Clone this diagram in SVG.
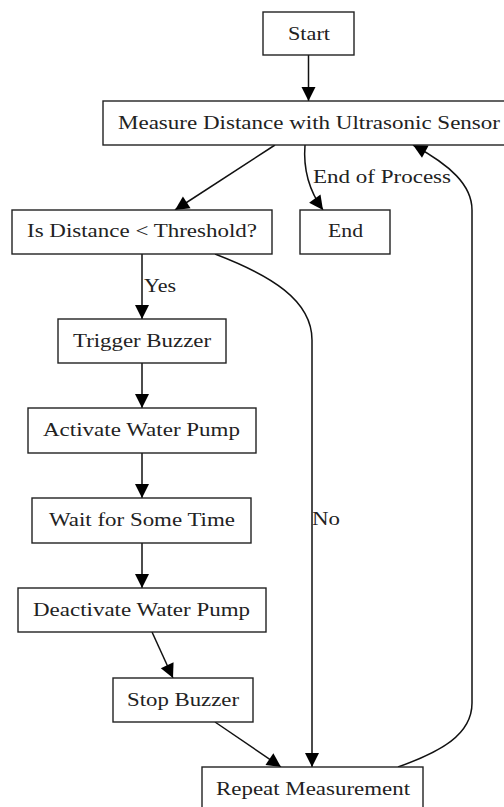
<svg xmlns="http://www.w3.org/2000/svg" width="504" height="807" viewBox="0 0 504 807">
<style>
.box{fill:#fff;stroke:#222;stroke-width:1.4}
text{font-family:'Liberation Serif','Times New Roman',serif;font-size:18px;fill:#222}
.e{fill:none;stroke:#111;stroke-width:1.5}
</style>
<defs>
<marker id="ah" markerUnits="userSpaceOnUse" markerWidth="15" markerHeight="14" refX="14" refY="7" orient="auto" overflow="visible">
<path d="M0,0 L14,7 L0,14 z" fill="#000"/>
</marker>
</defs>
<rect width="504" height="807" fill="#fff"/>
<g id="connectors">
<path class="e" marker-end="url(#ah)" d="M308.5,55 L308.5,101"/>
<path class="e" marker-end="url(#ah)" d="M275,145 L175,210"/>
<path class="e" marker-end="url(#ah)" d="M305,145 C303,170 310,192 323,210"/>
<path class="e" marker-end="url(#ah)" d="M142,254 L142,319"/>
<path class="e" marker-end="url(#ah)" d="M215,254 C270,275 312,300 312,340 L312,767"/>
<path class="e" marker-end="url(#ah)" d="M142,363 L142,408"/>
<path class="e" marker-end="url(#ah)" d="M142,453 L142,498"/>
<path class="e" marker-end="url(#ah)" d="M142,543 L142,588"/>
<path class="e" marker-end="url(#ah)" d="M152,632 L173,678"/>
<path class="e" marker-end="url(#ah)" d="M215,722 L281,767"/>
<path class="e" marker-end="url(#ah)" d="M398,767 C440,752 472,735 472,703 L472,210 C472,185 450,165 413,145"/>
<text x="313" y="183" textLength="138" lengthAdjust="spacingAndGlyphs">End of Process</text>
<text x="144" y="292" textLength="32" lengthAdjust="spacingAndGlyphs">Yes</text>
<text x="312" y="525" textLength="28" lengthAdjust="spacingAndGlyphs">No</text>
</g>
<g id="start"><rect class="box" x="263" y="12" width="91" height="43"/><text x="288" y="40" textLength="42" lengthAdjust="spacingAndGlyphs">Start</text></g>
<g id="measure"><rect class="box" x="103" y="101" width="412" height="44"/><text x="118" y="129" textLength="382" lengthAdjust="spacingAndGlyphs">Measure Distance with Ultrasonic Sensor</text></g>
<g id="check"><rect class="box" x="12" y="210" width="260" height="44"/><text x="27" y="237" textLength="230" lengthAdjust="spacingAndGlyphs">Is Distance &lt; Threshold?</text></g>
<g id="end"><rect class="box" x="300" y="210" width="90" height="44"/><text x="328" y="237" textLength="35" lengthAdjust="spacingAndGlyphs">End</text></g>
<g id="trigger"><rect class="box" x="58" y="319" width="168" height="44"/><text x="73" y="347" textLength="138" lengthAdjust="spacingAndGlyphs">Trigger Buzzer</text></g>
<g id="activate"><rect class="box" x="28" y="408" width="228" height="45"/><text x="43" y="436" textLength="197" lengthAdjust="spacingAndGlyphs">Activate Water Pump</text></g>
<g id="wait"><rect class="box" x="32" y="498" width="219" height="45"/><text x="49" y="526" textLength="186" lengthAdjust="spacingAndGlyphs">Wait for Some Time</text></g>
<g id="deactivate"><rect class="box" x="18" y="588" width="248" height="44"/><text x="33" y="616" textLength="217" lengthAdjust="spacingAndGlyphs">Deactivate Water Pump</text></g>
<g id="stop"><rect class="box" x="113" y="678" width="140" height="44"/><text x="127" y="706" textLength="112" lengthAdjust="spacingAndGlyphs">Stop Buzzer</text></g>
<g id="repeat"><rect class="box" x="202" y="767" width="221" height="44"/><text x="216" y="795" textLength="194" lengthAdjust="spacingAndGlyphs">Repeat Measurement</text></g>
</svg>
